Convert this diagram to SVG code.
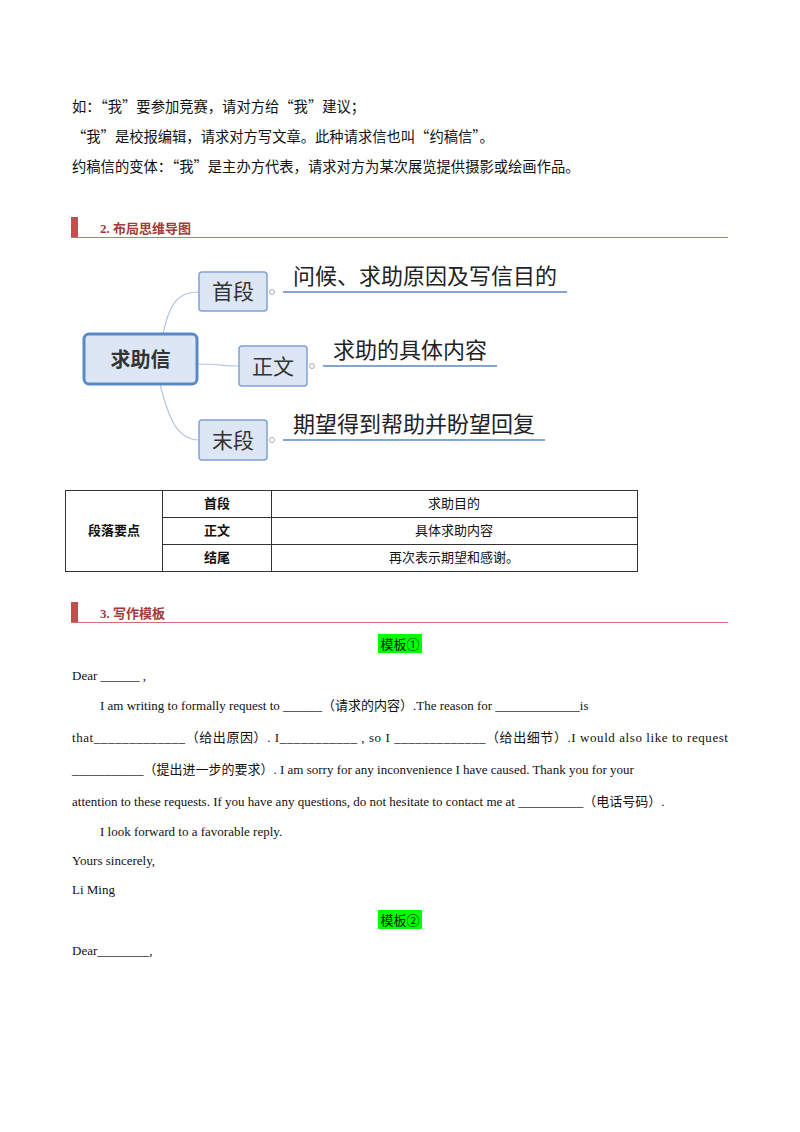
<svg xmlns="http://www.w3.org/2000/svg" width="800" height="1132" viewBox="0 0 800 1132">
<style>
.t{font-family:"Noto Sans CJK SC","Noto Sans",sans-serif;font-size:13px;fill:#111}
.p{font-family:"Noto Sans CJK SC","Noto Sans",sans-serif;font-size:14.3px;fill:#111}
.e{font-family:"Liberation Serif","Noto Sans CJK SC",serif;font-size:13px;fill:#111}
.h{font-family:"Liberation Serif","Noto Sans CJK SC",serif;font-size:13px;font-weight:bold;fill:#a33a3a}
.node{fill:#dce6f4;stroke:#7fa3d6;stroke-width:1.5}
.nt{font-family:"Noto Sans CJK SC",sans-serif;font-size:21px;fill:#333}
.lt{font-family:"Noto Sans CJK SC",sans-serif;font-size:22px;fill:#222}
.ul{stroke:#5b87c5;stroke-width:1.5}
.tb{fill:none;stroke:#333;stroke-width:1}
.b{font-weight:bold}
.hl{fill:#00ff00}
</style>
<rect width="800" height="1132" fill="#fff"/>
<text class="p" x="72" y="112">如：“我”要参加竞赛，请对方给“我”建议；</text>
<text class="p" x="72" y="142">“我”是校报编辑，请求对方写文章。此种请求信也叫“约稿信”。</text>
<text class="p" x="72" y="172">约稿信的变体：“我”是主办方代表，请求对方为某次展览提供摄影或绘画作品。</text>
<g id="h2"><rect x="71" y="217" width="7" height="21" fill="#c0504d"/><line x1="71" y1="237.5" x2="728" y2="237.5" stroke="#d07070" stroke-width="1"/><text class="h" x="100" y="233">2. 布局思维导图</text></g>
<g id="connectors" fill="none" stroke="#b4c7e4" stroke-width="1.2">
<path d="M163 334 C170 300 180 292 199 292"/>
<path d="M197 364 C215 364 225 366 239 366"/>
<path d="M160 384 C170 425 180 440 199 440"/>
</g>
<g id="n0"><rect x="84" y="334" width="113" height="50" rx="5" fill="#dce6f4" stroke="#5a8ac6" stroke-width="3"/><text x="140.5" y="367" text-anchor="middle" font-family="Noto Sans CJK SC,sans-serif" font-size="20" font-weight="bold" fill="#333">求助信</text></g>
<g id="n1"><rect class="node" x="199" y="272" width="68" height="39" rx="3"/><text class="nt" x="233" y="299" text-anchor="middle">首段</text><circle cx="272" cy="292" r="2.5" fill="#fff" stroke="#999" stroke-width="0.8"/><line class="ul" x1="283" y1="292" x2="567" y2="292"/><text class="lt" x="293" y="284">问候、求助原因及写信目的</text></g>
<g id="n2"><rect class="node" x="239" y="346" width="68" height="40" rx="3"/><text class="nt" x="273" y="374" text-anchor="middle">正文</text><circle cx="312" cy="366" r="2.5" fill="#fff" stroke="#999" stroke-width="0.8"/><line class="ul" x1="323" y1="366" x2="497" y2="366"/><text class="lt" x="333" y="358">求助的具体内容</text></g>
<g id="n3"><rect class="node" x="199" y="420" width="68" height="40" rx="3"/><text class="nt" x="233" y="448" text-anchor="middle">末段</text><circle cx="272" cy="440" r="2.5" fill="#fff" stroke="#999" stroke-width="0.8"/><line class="ul" x1="283" y1="440" x2="545" y2="440"/><text class="lt" x="293" y="432">期望得到帮助并盼望回复</text></g>
<g id="table">
<rect class="tb" x="65.5" y="490.5" width="572" height="81"/>
<line class="tb" x1="162.5" y1="490" x2="162.5" y2="572"/>
<line class="tb" x1="271.5" y1="490" x2="271.5" y2="572"/>
<line class="tb" x1="162" y1="517.5" x2="638" y2="517.5"/>
<line class="tb" x1="162" y1="544.5" x2="638" y2="544.5"/>
<text class="t b" x="114" y="535" text-anchor="middle">段落要点</text>
<text class="t b" x="217" y="508" text-anchor="middle">首段</text>
<text class="t b" x="217" y="535" text-anchor="middle">正文</text>
<text class="t b" x="217" y="562" text-anchor="middle">结尾</text>
<text class="t" x="454" y="508" text-anchor="middle">求助目的</text>
<text class="t" x="454" y="535" text-anchor="middle">具体求助内容</text>
<text class="t" x="454" y="562" text-anchor="middle">再次表示期望和感谢。</text>
</g>
<g id="h3"><rect x="71" y="602" width="7" height="21" fill="#c0504d"/><line x1="71" y1="622.5" x2="728" y2="622.5" stroke="#d07070" stroke-width="1"/><text class="h" x="100" y="618">3. 写作模板</text></g>
<rect class="hl" x="378" y="634" width="44" height="19"/>
<text class="t" x="400" y="649" text-anchor="middle">模板①</text>
<text class="e" x="72" y="680">Dear ______ ,</text>
<text class="e" x="100" y="710">I am writing to formally request to ______（请求的内容）.The reason for _____________is</text>
<text class="e" x="72" y="742" textLength="656" lengthAdjust="spacing">that_____________（给出原因）. I___________ , so I _____________（给出细节）.I would also like to request</text>
<text class="e" x="72" y="774">___________（提出进一步的要求）. I am sorry for any inconvenience I have caused. Thank you for your</text>
<text class="e" x="72" y="806">attention to these requests. If you have any questions, do not hesitate to contact me at __________（电话号码）.</text>
<text class="e" x="100" y="836">I look forward to a favorable reply.</text>
<text class="e" x="72" y="865">Yours sincerely,</text>
<text class="e" x="72" y="894">Li Ming</text>
<rect class="hl" x="378" y="910" width="44" height="19"/>
<text class="t" x="400" y="925" text-anchor="middle">模板②</text>
<text class="e" x="72" y="955">Dear________,</text>
</svg>
